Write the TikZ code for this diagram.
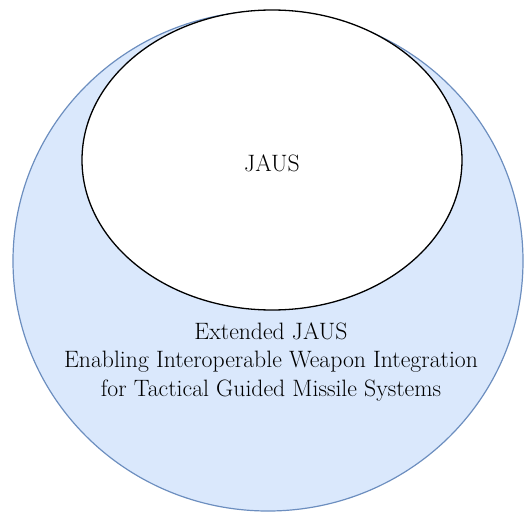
\documentclass[tikz,border=0pt]{standalone}
\usetikzlibrary{shapes.geometric}
\definecolor{outerfill}{HTML}{DAE8FC}
\definecolor{outerdraw}{HTML}{6C8EBF}
\tikzset{
  outerset/.style={ellipse, draw=outerdraw, fill=outerfill, line width=1.2pt, inner sep=0pt},
  innerset/.style={ellipse, draw=black, fill=white, line width=1.3pt, inner sep=0pt},
  lbl/.style={font=\fontsize{23.7}{28.5}\selectfont, text=black, align=center}
}
\begin{document}
\begin{tikzpicture}[x=1pt,y=-1pt]
\useasboundingbox (0,0) rectangle (525,514);
\node[outerset, minimum width=510pt, minimum height=500pt] (outer) at (268,261) {};
\node[innerset, minimum width=380pt, minimum height=300pt] (inner) at (272,160) {};
\node[lbl] (jaus) at (272,163) {JAUS};
\node[lbl] (ext) at (271,362) {Extended JAUS\\Enabling Interoperable Weapon Integration\\for Tactical Guided Missile Systems};
\end{tikzpicture}
\end{document}
